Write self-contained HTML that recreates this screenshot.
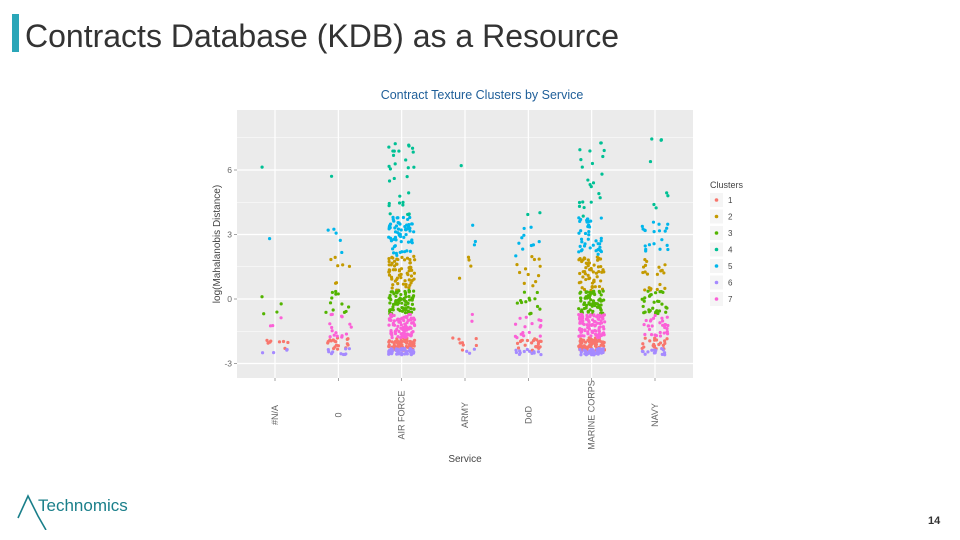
<!DOCTYPE html>
<html><head><meta charset="utf-8">
<style>
body{margin:0;width:960px;height:540px;background:#fff;overflow:hidden;font-family:"Liberation Sans",sans-serif;position:relative}
.abs{position:absolute}
</style></head><body>
<div class="abs" style="left:12px;top:14px;width:7px;height:38px;background:#2aa6b8"></div>
<div class="abs" style="left:25px;top:18px;font-size:32px;color:#333;white-space:nowrap">Contracts Database (KDB) as a Resource</div>
<svg class="abs" style="left:0;top:0" width="960" height="540" id="chart"></svg>
<div class="abs" style="left:16px;top:490px;width:130px;height:40px">
<svg width="40" height="40" style="position:absolute;left:0;top:0"><path d="M2 28 L12 6 L22 26 L30 40" fill="none" stroke="#1a7f8a" stroke-width="1.6"/></svg>
<span style="position:absolute;left:22px;top:6px;font-size:17px;color:#1a7f8a">Technomics</span></div>
<div class="abs" style="left:928px;top:515px;font-size:11px;font-weight:bold;color:#333">14</div>
<script>
const categories=["#N/A","0","AIR FORCE","ARMY","DoD","MARINE CORPS","NAVY"];
const clusters=["1","2","3","4","5","6","7"];
const clusterColors=["#F8766D","#C49A00","#53B400","#00C094","#00B6EB","#A58AFF","#FB61D7"];
const clusterLow=[-2.4,0.4,-0.7,3.8,2.0,-2.6,-1.8];
const clusterHigh=[-1.8,2.0,0.4,7.5,3.8,-2.3,-0.7];
const counts1=[8,18,75,8,22,75,22];
const counts2=[0,7,65,4,12,55,20];
const counts3=[4,12,80,0,13,65,30];
const counts4=[1,1,30,1,2,22,8];
const counts5=[1,5,65,3,10,42,20];
const counts6=[4,10,50,3,13,45,15];
const counts7=[3,16,95,2,16,95,30];
const yTicks=[-3,0,3,6];
const yMinor=[-1.5,1.5,4.5,7.5];
const countsAll=[counts1,counts2,counts3,counts4,counts5,counts6,counts7];
const NS="http://www.w3.org/2000/svg";
const svg=document.getElementById('chart');
const P={l:237,r:693,t:110,b:378};
const xs=i=>P.l+ (i+0.6)*((P.r-P.l)/(categories.length+0.2));
const ys=v=>299-v*21.5;
function mk(t,a,p){const e=document.createElementNS(NS,t);for(const k in a)e.setAttribute(k,a[k]);(p||svg).appendChild(e);return e;}
let seed=12345;function rnd(){seed=(seed*1103515245+12345)%2147483648;return seed/2147483648;}
const bg=mk('rect',{x:P.l,y:P.t,width:P.r-P.l,height:P.b-P.t,fill:'#EBEBEB'});

yMinor.forEach(v=>{const l=mk('line',{x1:P.l,x2:P.r,y1:ys(v),y2:ys(v),stroke:'#fff','stroke-width':0.6});});
yTicks.forEach(v=>{const l=mk('line',{x1:P.l,x2:P.r,y1:ys(v),y2:ys(v),stroke:'#fff','stroke-width':1.2});
const t=mk('text',{x:P.l-5,y:ys(v)+3,'text-anchor':'end','font-size':8.5,fill:'#666'});t.textContent=v;
mk('line',{x1:P.l-3,x2:P.l,y1:ys(v),y2:ys(v),stroke:'#666','stroke-width':0.6});});
categories.forEach((c,i)=>{const x=xs(i);const l=mk('line',{x1:x,x2:x,y1:P.t,y2:P.b,stroke:'#fff','stroke-width':1.2});
mk('line',{x1:x,x2:x,y1:P.b,y2:P.b+3,stroke:'#666','stroke-width':0.6});
const t=mk('text',{x:0,y:0,'text-anchor':'middle','font-size':9,fill:'#666',transform:`translate(${x+3},415) rotate(-90)`});t.textContent=c;});
const g=mk('g',{});
clusters.forEach((cl,k)=>{categories.forEach((c,i)=>{const n=countsAll[k][i];for(let j=0;j<n;j++){
const v=clusterLow[k]+rnd()*(clusterHigh[k]-clusterLow[k]);const x=xs(i)+(rnd()-0.5)*26;
const p=mk('circle',{cx:x,cy:ys(v),r:1.6,fill:clusterColors[k]},g);}});});
let t=mk('text',{x:482,y:99,'text-anchor':'middle','font-size':12.5,fill:'#1f5f99'});t.textContent='Contract Texture Clusters by Service';
t=mk('text',{x:465,y:462,'text-anchor':'middle','font-size':10,fill:'#444'});t.textContent='Service';
t=mk('text',{x:0,y:0,'text-anchor':'middle','font-size':10,fill:'#444',transform:'translate(220,244) rotate(-90)'});t.textContent='log(Mahalanobis Distance)';
t=mk('text',{x:710,y:188,'font-size':9,fill:'#444'});t.textContent='Clusters';
clusters.forEach((cl,k)=>{const y=200+k*16.5;const r=mk('rect',{x:710,y:y-7,width:13,height:14,fill:'#F5F5F5'});
mk('circle',{cx:716.5,cy:y,r:1.8,fill:clusterColors[k]});
const tt=mk('text',{x:728,y:y+3,'font-size':8,fill:'#444'});tt.textContent=cl;});
</script>
</body></html>
